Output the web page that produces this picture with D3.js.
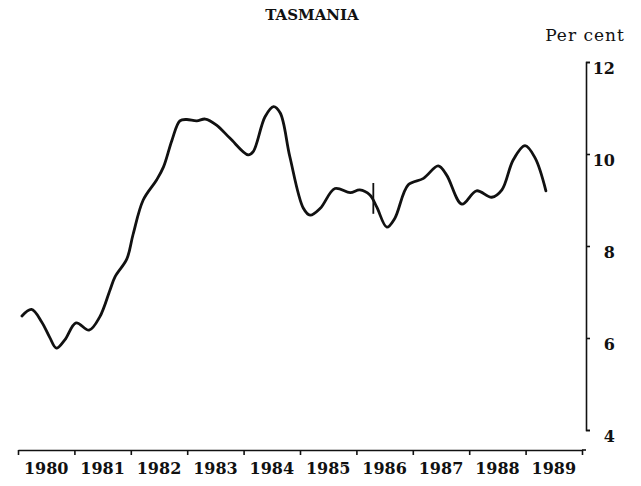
<!DOCTYPE html>
<html>
<head>
<meta charset="utf-8">
<script src="https://cdn.jsdelivr.net/npm/d3@7"></script>
<style>
  body { margin: 0; background: #fff; }
  text { font-family: 'DejaVu Serif', serif; fill: #111; }
</style>
</head>
<body>
<script>
// trend series (decimal year, per cent)
var dates = [1980.07, 1980.24, 1980.42, 1980.56, 1980.68, 1980.83, 1981.03, 1981.26, 1981.45,
  1981.63, 1981.72, 1981.93, 1982.04, 1982.22, 1982.46, 1982.58, 1982.73, 1982.87, 1982.99,
  1983.17, 1983.32, 1983.52, 1983.76, 1984.08, 1984.17, 1984.38, 1984.53, 1984.65, 1984.82,
  1985.06, 1985.18, 1985.36, 1985.62, 1985.89, 1986.06, 1986.24, 1986.36, 1986.54, 1986.68,
  1986.92, 1987.19, 1987.45, 1987.60, 1987.87, 1988.13, 1988.40, 1988.58, 1988.78, 1988.99,
  1989.17, 1989.36];
var rates = [6.48, 6.62, 6.35, 6.02, 5.78, 5.96, 6.33, 6.17, 6.46,
  7.04, 7.33, 7.72, 8.25, 9.00, 9.44, 9.72, 10.30, 10.72, 10.75,
  10.72, 10.76, 10.63, 10.34, 9.98, 10.05, 10.81, 11.03, 10.89, 9.94,
  8.82, 8.67, 8.82, 9.25, 9.16, 9.22, 9.11, 8.85, 8.41, 8.60,
  9.33, 9.47, 9.74, 9.54, 8.91, 9.20, 9.06, 9.22, 9.87, 10.18,
  9.91, 9.20];
var years = [1980, 1981, 1982, 1983, 1984, 1985, 1986, 1987, 1988, 1989];
var yTicks = [4, 6, 8, 10, 12];
// series break marker
var breakDate = 1986.30;
var breakRange = [8.70, 9.37];

var svg = d3.select('body')
  .append('svg')
  .attr('width', 641)
  .attr('height', 486)

var x = d3.scaleLinear()
  .domain([1980, 1990])
  .range([18, 582])
var y = d3.scaleLinear()
  .domain([4, 12])
  .range([430, 62])

var axisX = 586, axisY = 450;

// title
svg.append('text')
  .attr('x', 312)
  .attr('y', 20)
  .attr('text-anchor', 'middle')
  .attr('font-size', '15px')
  .attr('font-weight', 'bold')
  .text('TASMANIA')

svg.append('text')
  .attr('x', 585)
  .attr('y', 41)
  .attr('text-anchor', 'middle')
  .attr('font-size', '17px')
  .attr('letter-spacing', '1px')
  .text('Per cent')

// right axis
let yAxis = svg.append('g')
  .attr('transform', `translate(${axisX},0)`)
  .call(d3.axisRight(y).tickValues(yTicks).tickSize(4).tickSizeOuter(4).tickFormat(d3.format('d')))
yAxis.select('.domain').attr('stroke', '#111').attr('stroke-width', 1.6)
yAxis.selectAll('.tick line').attr('stroke', '#111').attr('stroke-width', 1.6)
yAxis.selectAll('text')
  .attr('text-anchor', 'end')
  .attr('x', 29)
  .attr('dy', '0.7em')
  .attr('font-size', '16px')
  .attr('font-weight', 'bold')
  .attr('font-family', 'DejaVu Serif')
  .attr('fill', '#111')

// bottom axis
let xAxis = svg.append('g')
  .attr('transform', `translate(0,${axisY})`)
  .call(d3.axisBottom(x).tickValues(years.concat([1990])).tickSize(5).tickSizeOuter(0).tickFormat(''))
xAxis.select('.domain').attr('stroke', '#111').attr('stroke-width', 1.6)
xAxis.selectAll('.tick line').attr('stroke', '#111').attr('stroke-width', 1.6)
xAxis.append('line')
  .attr('x1', x(1990)).attr('x2', axisX)
  .attr('stroke', '#111').attr('stroke-width', 1.6)

svg.append('g')
  .selectAll('text')
  .data(years)
  .enter()
    .append('text')
    .attr('x', d => x(d + 0.5))
    .attr('y', 474)
    .attr('text-anchor', 'middle')
    .attr('font-size', '16px')
    .attr('font-weight', 'bold')
    .text(d => d)

// the line
var series = dates.map((d, i) => [d, rates[i]]);
svg.append('path')
  .datum(series)
  .attr('fill', 'none')
  .attr('stroke', '#111')
  .attr('stroke-width', 2.8)
  .attr('stroke-linejoin', 'round')
  .attr('stroke-linecap', 'round')
  .attr('d', d3.line().x(d => x(d[0])).y(d => y(d[1])).curve(d3.curveCatmullRom))

svg.append('line')
  .attr('x1', x(breakDate)).attr('x2', x(breakDate))
  .attr('y1', y(breakRange[0])).attr('y2', y(breakRange[1]))
  .attr('stroke', '#111')
  .attr('stroke-width', 1.8)
</script>
</body>
</html>
